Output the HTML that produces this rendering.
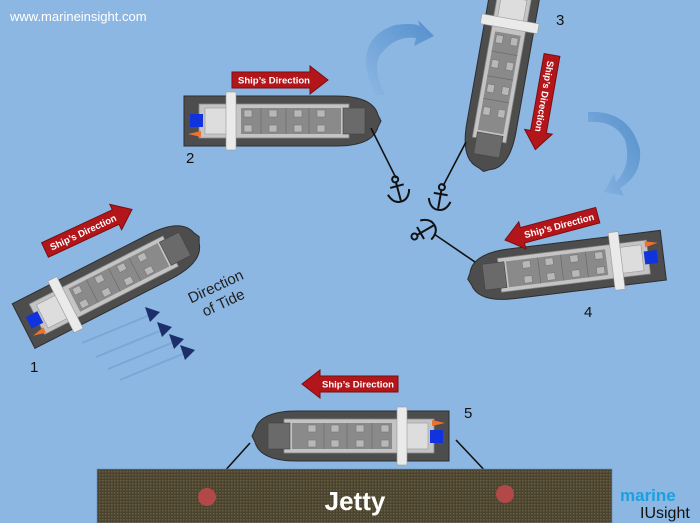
<!DOCTYPE html>
<html><head><meta charset="utf-8"><style>
html,body{margin:0;padding:0;width:700px;height:523px;overflow:hidden;background:#8cb7e3;font-family:"Liberation Sans",sans-serif}
</style></head><body>
<svg width="700" height="523" viewBox="0 0 700 523" xmlns="http://www.w3.org/2000/svg">
<defs>
<g id="ship">
  <path d="M-97,-25 H55 Q92,-25 97,-6 L100,0 L97,6 Q92,25 55,25 H-97 Z" fill="#4d4d4d" stroke="#2e2e2e" stroke-width="1"/>
  <rect x="-82" y="-17" width="150" height="34" fill="#c4c4c4" stroke="#888" stroke-width="0.8"/>
  <rect x="-40" y="-13" width="100" height="26" fill="#8a8a8a"/>
  <g fill="#b8b8b8" stroke="#777" stroke-width="0.6">
    <rect x="-37" y="-11" width="8" height="7"/><rect x="-37" y="4" width="8" height="7"/>
    <rect x="-12" y="-11" width="8" height="7"/><rect x="-12" y="4" width="8" height="7"/>
    <rect x="13" y="-11" width="8" height="7"/><rect x="13" y="4" width="8" height="7"/>
    <rect x="36" y="-11" width="8" height="7"/><rect x="36" y="4" width="8" height="7"/>
  </g>
  <g stroke="#666" stroke-width="0.6"><line x1="-20" y1="-13" x2="-20" y2="13"/><line x1="5" y1="-13" x2="5" y2="13"/><line x1="28" y1="-13" x2="28" y2="13"/></g>
  <rect x="62" y="-13" width="22" height="26" fill="#6a6a6a" stroke="#444" stroke-width="0.6"/>
  <rect x="-76" y="-13" width="22" height="26" fill="#ddd" stroke="#999" stroke-width="0.6"/>
  <rect x="-55" y="-29" width="10" height="58" fill="#eaeaea" stroke="#999" stroke-width="0.6"/>
  <rect x="-91" y="-7" width="13" height="13" fill="#1133dd"/>
  <path d="M-93,13 L-80,10 L-80,16 Z" fill="#f07030"/>
</g>
<g id="arr">
  <path d="M0,-8 H78 V-14 L96,0 L78,14 V8 H0 Z" fill="#b3161a" stroke="#7a0d0f" stroke-width="1"/>
  <text x="42" y="3.5" font-size="9.5" font-weight="bold" fill="#fff" text-anchor="middle">Ship’s Direction</text>
</g>
<g id="arrL">
  <path d="M96,-8 H18 V-14 L0,0 L18,14 V8 H96 Z" fill="#b3161a" stroke="#7a0d0f" stroke-width="1"/>
  <text x="56" y="3.5" font-size="9.5" font-weight="bold" fill="#fff" text-anchor="middle">Ship’s Direction</text>
</g>
<g id="anc" fill="none" stroke="#111" stroke-width="2">
  <circle cx="0" cy="-11" r="3"/>
  <line x1="0" y1="-8" x2="0" y2="11"/>
  <line x1="-7" y1="-4" x2="7" y2="-4"/>
  <path d="M-11,2 Q-8,12 0,12 Q8,12 11,2"/>
</g>
<linearGradient id="bg1" x1="0" y1="1" x2="1" y2="0"><stop offset="0" stop-color="#8cb7e3"/><stop offset="1" stop-color="#4a88c8"/></linearGradient>
<pattern id="jt" width="3" height="3" patternUnits="userSpaceOnUse"><rect width="3" height="3" fill="#4a4330"/><rect width="1.5" height="1.5" fill="#6b6040"/></pattern>
</defs>

<text x="10" y="21" font-size="13" fill="#fff">www.marineinsight.com</text>

<path d="M375,95 Q350,40 395,25 Q420,22 420,28 L418,20 L434,36 L414,46 L416,38 Q395,35 380,55 Q372,70 385,95 Z" fill="url(#bg1)" opacity="0.85"/>
<path d="M588,112 Q630,110 640,150 Q642,175 620,188 L624,196 L604,192 L614,174 L616,182 Q632,165 625,140 Q615,120 588,122 Z" fill="url(#bg1)" opacity="0.85"/>

<use href="#ship" transform="translate(110,282) rotate(-27)"/>
<use href="#ship" transform="translate(281,121)"/>
<use href="#ship" transform="translate(501,73) rotate(100)"/>
<use href="#ship" transform="translate(567,267) rotate(173)"/>
<use href="#ship" transform="translate(352,436) rotate(180)"/>

<g stroke="#111" stroke-width="1.6">
<line x1="371" y1="128" x2="396" y2="178"/>
<line x1="466" y1="142" x2="443" y2="186"/>
<line x1="475" y1="262" x2="434" y2="234"/>
<line x1="250" y1="443" x2="205" y2="493"/>
<line x1="456" y1="440" x2="505" y2="492"/>
</g>
<use href="#anc" transform="translate(398,190) rotate(-15)"/>
<use href="#anc" transform="translate(440,198) rotate(10)"/>
<use href="#anc" transform="translate(424,231) rotate(-120)"/>

<use href="#arr" transform="translate(232,80)"/>
<use href="#arr" transform="translate(45,250) rotate(-25)"/>
<use href="#arr" transform="translate(552,55) rotate(100)"/>
<use href="#arrL" transform="translate(505,240) rotate(-15)"/>
<use href="#arrL" transform="translate(302,384)"/>

<g stroke="#7aa6d8" stroke-width="2">
<line x1="82" y1="343" x2="150" y2="315"/>
<line x1="96" y1="357" x2="162" y2="330"/>
<line x1="108" y1="369" x2="174" y2="342"/>
<line x1="120" y1="380" x2="185" y2="353"/>
</g>
<g fill="#1d2f6a">
<path d="M145,307 L160,312 L150,322 Z"/><path d="M157,322 L172,327 L162,337 Z"/>
<path d="M169,334 L184,339 L174,349 Z"/><path d="M180,345 L195,350 L185,360 Z"/>
</g>
<g transform="translate(222,300) rotate(-25)" font-size="15" fill="#222" text-anchor="middle">
<text x="0" y="-10">Direction</text><text x="0" y="8">of Tide</text></g>

<g font-size="15" fill="#111">
<text x="30" y="372">1</text><text x="186" y="163">2</text><text x="556" y="25">3</text>
<text x="584" y="317">4</text><text x="464" y="418">5</text></g>

<rect x="97" y="469" width="515" height="54" fill="url(#jt)" stroke="#6c8ab0" stroke-width="0.6"/>
<circle cx="207" cy="497" r="9" fill="#b24848"/>
<circle cx="505" cy="494" r="9" fill="#b24848"/>
<text x="355" y="510" font-size="26" font-weight="bold" fill="#fff" text-anchor="middle">Jetty</text>

<text x="620" y="501" font-size="17" font-weight="bold" fill="#1aa0e0">marine</text>
<text x="640" y="518" font-size="16" fill="#111">IUsight</text>
</svg>
</body></html>
